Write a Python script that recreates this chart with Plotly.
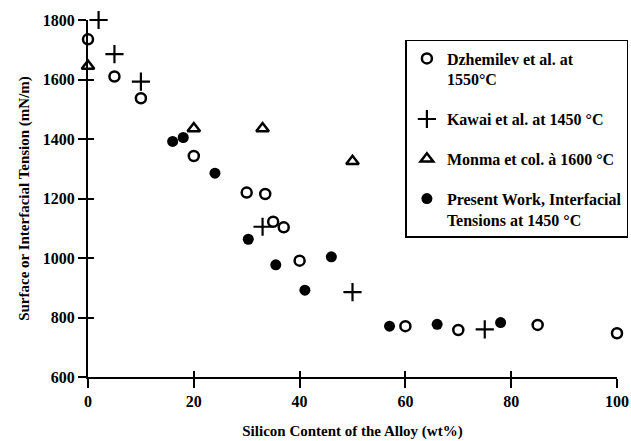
import plotly.graph_objects as go

# Data
dzh_x = [0, 5, 10, 20, 30, 33.5, 35, 37, 40, 60, 70, 85, 100]
dzh_y = [1735, 1610, 1537, 1343, 1220, 1215, 1122, 1103, 991, 771, 758, 775, 747]

kaw_x = [2, 5, 10, 33, 50, 75]
kaw_y = [1800, 1685, 1593, 1105, 885, 760]

mon_x = [0, 20, 33, 50]
mon_y = [1645, 1435, 1435, 1325]

pw_x = [16, 18, 24, 30.3, 35.5, 41, 46, 57, 66, 78]
pw_y = [1392, 1405, 1285, 1063, 977, 892, 1004, 771, 777, 783]

names = [
    "Dzhemilev et al. at<br>1550°C",
    "Kawai et al. at 1450 °C",
    "Monma et col. à 1600 °C",
    "Present Work, Interfacial<br>Tensions at 1450 °C",
]

x_ticks = [0, 20, 40, 60, 80, 100]
y_ticks = [600, 800, 1000, 1200, 1400, 1600, 1800]
x_range = [0, 100]
y_range = [600, 1800]

FONT = "Liberation Serif, Times New Roman, serif"
BLACK = "#000000"

fig = go.Figure()
fig.add_trace(go.Scatter(x=dzh_x, y=dzh_y, mode="markers", name=names[0], legendgroup="a",
                         marker=dict(symbol="circle-open", size=10, color="black", line=dict(width=2.5)),
                         cliponaxis=False))
fig.add_trace(go.Scatter(x=kaw_x, y=kaw_y, mode="markers", name=names[1], legendgroup="b",
                         marker=dict(symbol="cross-thin-open", size=13, color="black", line=dict(width=2.2)),
                         cliponaxis=False))
fig.add_trace(go.Scatter(x=mon_x, y=mon_y, mode="markers", name=names[2], legendgroup="c",
                         marker=dict(symbol="triangle-up-open", size=11, color="black", line=dict(width=2.5)),
                         cliponaxis=False))
fig.add_trace(go.Scatter(x=pw_x, y=pw_y, mode="markers", name=names[3], legendgroup="d",
                         marker=dict(symbol="circle", size=11, color="black"),
                         cliponaxis=False))
# empty helper trace so the overlay axes (inner halves of the crossing ticks) are drawn
fig.add_trace(go.Scatter(x=[], y=[], xaxis="x2", yaxis="y2", mode="markers",
                         showlegend=False, hoverinfo="skip"))

tickfont = dict(family=FONT, size=16, color="black", weight="bold")
titlefont = dict(family=FONT, size=15, color="black", weight="bold")

fig.update_layout(
    width=631, height=441,
    margin=dict(l=88, r=14, t=20, b=64, autoexpand=False),
    paper_bgcolor="white", plot_bgcolor="white",
    font=dict(family=FONT, size=15, color="black"),
    showlegend=True,
    legend=dict(
        x=0.6, y=0.944, xanchor="left", yanchor="top",
        bordercolor="black", borderwidth=1.5, bgcolor="white",
        font=dict(family=FONT, size=16, color="black", weight="bold"),
        valign="top", tracegroupgap=16, itemwidth=30,
    ),
    xaxis=dict(
        range=x_range, tickvals=x_ticks, ticktext=[str(v) for v in x_ticks],
        showgrid=False, zeroline=False, showline=True, linecolor=BLACK, linewidth=2,
        ticks="outside", ticklen=9, tickwidth=2, tickcolor=BLACK, automargin=False,
        tickfont=tickfont,
        title=dict(text="Silicon Content of the Alloy (wt%)", standoff=16, font=titlefont),
    ),
    yaxis=dict(
        range=y_range, tickvals=y_ticks, ticktext=[str(v) for v in y_ticks],
        showgrid=False, zeroline=False, showline=True, linecolor=BLACK, linewidth=2,
        ticks="outside", ticklen=8, tickwidth=2, tickcolor=BLACK, automargin=False,
        ticksuffix="  ", tickfont=tickfont,
        title=dict(text="Surface or Interfacial Tension (mN/m)", standoff=10, font=titlefont),
    ),
    xaxis2=dict(
        overlaying="x", anchor="y2", side="bottom", range=x_range, tickvals=x_ticks,
        showticklabels=False, showgrid=False, zeroline=False, showline=False,
        ticks="inside", ticklen=6, tickwidth=2, tickcolor=BLACK, automargin=False,
    ),
    yaxis2=dict(
        overlaying="y", anchor="x2", side="left", range=y_range, tickvals=y_ticks,
        showticklabels=False, showgrid=False, zeroline=False, showline=False,
        ticks="inside", ticklen=6, tickwidth=2, tickcolor=BLACK, automargin=False,
    ),
)

fig.write_html("out.html", config={"displayModeBar": False},
               post_script="document.body.style.margin='0';")
